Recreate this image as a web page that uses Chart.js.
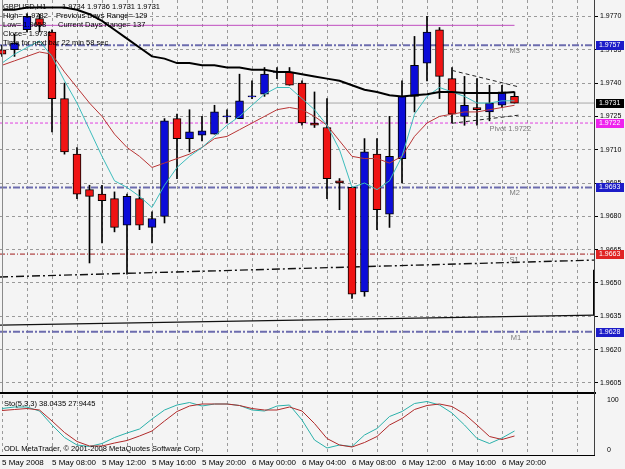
<!DOCTYPE html>
<html>
<head>
<meta charset="utf-8">
<title>GBPUSD,H1</title>
<script src="https://cdn.jsdelivr.net/npm/chart.js@4.4.1/dist/chart.umd.min.js"></script>
<style>
  html,body{margin:0;padding:0;background:#f4f4f4}
  #wrap{position:relative;width:625px;height:469px;overflow:hidden;background:#f4f4f4;font-family:"Liberation Sans",Arial,sans-serif}
  canvas{position:absolute;left:0}
  #main{top:0}
  #sto{top:394px}
  .txt{position:absolute;font-size:7.5px;line-height:8px;white-space:pre;color:#000}
  .rule{position:absolute;background:#000}
</style>
</head>
<body>
<div id="wrap">
  <canvas id="main" width="625" height="392"></canvas>
  <canvas id="sto" width="625" height="75"></canvas>
  <div class="rule" style="left:2px;top:0;width:1px;height:392px;background:#8a8a8a"></div>
  <div class="rule" style="left:0;top:392px;width:596px;height:2px"></div>
  <div class="rule" style="left:594px;top:0;width:1px;height:456px;background:#404040"></div>
  <div class="rule" style="left:0;top:455px;width:595px;height:1px"></div>
  <div class="txt" style="left:3px;top:3px">GBPUSD,H1</div>
  <div class="txt" style="left:62px;top:3px">1.9734 1.9736 1.9731 1.9731</div>
  <div class="txt" style="left:3px;top:12px">High= 1.9782</div>
  <div class="txt" style="left:56px;top:12px">Previous Days Range= 129</div>
  <div class="txt" style="left:3px;top:21px">Low= 1.9653</div>
  <div class="txt" style="left:58px;top:21px">Current Days Range= 137</div>
  <div class="txt" style="left:3px;top:30px">Close= 1.9731</div>
  <div class="txt" style="left:3px;top:39px">Time for next bar 22 min 58 sec</div>
  <div class="txt" style="left:4px;top:400px">Sto(5,3,3) 38.0435 27.9445</div>
  <div class="txt" style="left:4px;top:445px">ODL MetaTrader, © 2001-2008 MetaQuotes Software Corp.</div>
</div>
<script>
// hourly bars, index 0 = 5 May 04:00
const bars = [0,1,2,3,4,5,6,7,8,9,10,11,12,13,14,15,16,17,18,19,20,21,22,23,24,25,26,27,28,29,30,31,32,33,34,35,36,37,38,39,40,41];
const opens  = [1.9755,1.9755,1.9764,1.9769,1.9763,1.9733,1.9708,1.9692,1.9690,1.9688,1.9676,1.9688,1.9675,1.9680,1.9724,1.9715,1.97165,1.9717,1.97248,1.9724,1.97338,1.9735,1.97448,1.9745,1.9740,1.9722,1.9720,1.9696,1.9693,1.9646,1.9708,1.9681,1.9706,1.9734,1.9749,1.9764,1.9742,1.9725,1.9729,1.9727,1.9730,1.9734];
const highs  = [1.9757,1.9762,1.9771,1.9771,1.9764,1.9740,1.9711,1.9694,1.9694,1.9691,1.9690,1.9692,1.9682,1.9724,1.9726,1.9728,1.9725,1.9730,1.9728,1.9744,1.9741,1.9747,1.9747,1.9747,1.9741,1.9736,1.9733,1.9697,1.9693,1.9715,1.9715,1.9725,1.9741,1.9761,1.9770,1.9765,1.9747,1.9743,1.9742,1.9739,1.9739,1.9736];
const lows   = [1.9752,1.9752,1.9763,1.9763,1.9718,1.9708,1.9688,1.9659,1.9668,1.9673,1.9654,1.9674,1.9668,1.9677,1.9697,1.9709,1.9714,1.9717,1.9722,1.9724,1.9733,1.9734,1.9742,1.9739,1.9721,1.9720,1.9688,1.9683,1.9643,1.9644,1.9674,1.9675,1.9695,1.9727,1.9741,1.9733,1.9722,1.9721,1.9721,1.9723,1.9729,1.9731];
const closes = [1.9753,1.9758,1.9770,1.9766,1.9733,1.9709,1.9690,1.9689,1.9687,1.9675,1.9689,1.9676,1.9679,1.9723,1.9715,1.9718,1.97185,1.9727,1.97252,1.9732,1.97342,1.9744,1.97452,1.9739,1.9722,1.9721,1.9697,1.9695,1.9645,1.9709,1.9683,1.9707,1.9734,1.9748,1.9763,1.9743,1.9726,1.9730,1.9728,1.9731,1.9736,1.9731];

const maSlowBlack = [1.9773,1.9773,1.9774,1.9774,1.9774,1.9774,1.9773,1.9771,1.9768,1.9764,1.9760,1.9756,1.9752,1.9751,1.9749,1.9749,1.9748,1.9748,1.9747,1.9747,1.9746,1.9746,1.9745,1.9745,1.9744,1.9743,1.9742,1.9741,1.9739,1.9737,1.9736,1.97345,1.9734,1.97345,1.9735,1.9736,1.9736,1.97355,1.97355,1.97355,1.97355,1.9736];
const maFast = [1.9749,1.9753,1.9756,1.9759,1.9752,1.9741,1.9731,1.9719,1.9707,1.9696,1.9693,1.9689,1.9684,1.9694,1.9702,1.9707,1.9711,1.9716,1.9721,1.9725,1.9730,1.9735,1.9738,1.9738,1.9733,1.9728,1.9721,1.9710,1.9693,1.9695,1.9692,1.9696,1.9707,1.9726,1.9734,1.9738,1.9736,1.9734,1.9731,1.9731,1.9732,1.9732];
const maMid = [1.9748,1.9750,1.9752,1.9754,1.9753,1.9745,1.9738,1.9731,1.9725,1.9717,1.9711,1.9707,1.9702,1.9704,1.9706,1.9708,1.9711,1.9715,1.9716,1.9719,1.9722,1.9725,1.9728,1.9729,1.9728,1.9725,1.9721,1.9714,1.9707,1.9706,1.9706,1.9704,1.9707,1.9716,1.9722,1.9725,1.9726,1.9727,1.9727,1.9728,1.9729,1.9730];

const stoMain   = [83,86,86,78,50,25,10,7,13,25,34,42,62,80,90,95,88,92,92,89,80,78,88,90,60,20,4,10,7,30,43,67,77,93,97,90,74,50,23,13,24,38];
const stoSignal = [79,81,83,80,58,35,17,8,8,14,19,28,38,58,77,88,92,92,92,89,83,80,80,86,78,53,23,10,6,15,27,50,63,81,89,92,87,72,50,27,21,28];

const priceTicks = [1.9770,1.9755,1.9740,1.9725,1.9710,1.9695,1.9680,1.9665,1.9650,1.9635,1.9620,1.9605];
const stoTicks = [0,100];
const gridBars = [0,2,4,6,8,10,12,14,16,18,20,22,24,26,28,30,32,34,36,38,40,42,44,46];
const dateTickBars = [0,4,8,12,16,20,24,28,32,36,40];
const dateLabels = ['5 May 2008','5 May 08:00','5 May 12:00','5 May 16:00','5 May 20:00','6 May 00:00','6 May 04:00','6 May 08:00','6 May 12:00','6 May 16:00','6 May 20:00'];

const levelNames  = ['M3','Pivot 1.9722','M2','S1','M1'];
const levelValues = [1.9757,1.9722,1.9693,1.9663,1.9628];
const prevHighLine = 1.9766;
const bidLine = 1.9731;
const trendDashDot = [1.96527,1.96603];
const trendSolid = [1.96310,1.96355];
const edgeSegment = [1.96559,1.96355];
const envTop = [1.97457,1.97382];
const envBottom = [1.97219,1.97256];
const envBars = [36,41.4];

const markValues = [1.9757,1.9731,1.9722,1.9693,1.9663,1.9628];
const markColors = ['#1c1cc8','#000000','#ee22ee','#1c1cc8','#e02424','#1c1cc8'];

const FONT = '"Liberation Sans", Arial, sans-serif';
const xMin = -0.16, xMax = 47.44;
const yMin = 1.96009, yMax = 1.97774;

function hline(v, color, width, dash, x0, x1){
  return {type:'line', data:[{x:x0 ?? xMin, y:v},{x:x1 ?? xMax, y:v}], borderColor:color, borderWidth:width,
          borderDash:dash, pointRadius:0, order:6};
}
function series(vals, color, width, order){
  return {type:'line', data:bars.map((b,i)=>({x:b, y:vals[i]})), borderColor:color, borderWidth:width,
          pointRadius:0, tension:0, order:order};
}

const levelPlugin = {
  id:'levels',
  afterDatasetsDraw(chart){
    const {ctx, scales:{x, y}} = chart;
    const at = [40.6, 39.0, 40.6, 40.6, 40.7];
    ctx.save();
    ctx.font = '7.5px ' + FONT;
    ctx.fillStyle = '#7a7a7a';
    ctx.textBaseline = 'top';
    levelNames.forEach((n,k)=>ctx.fillText(n, x.getPixelForValue(at[k]), y.getPixelForValue(levelValues[k]) + 2));
    ctx.restore();
  },
  afterDraw(chart){
    const {ctx, scales:{y}} = chart;
    ctx.save();
    ctx.font = '7px ' + FONT;
    ctx.textBaseline = 'middle';
    markValues.forEach((v,k)=>{
      const py = Math.round(y.getPixelForValue(v));
      ctx.fillStyle = markColors[k];
      ctx.fillRect(596, py-4, 28, 9);
      ctx.fillStyle = '#fff';
      ctx.fillText(v.toFixed(4), 599, py+0.5);
    });
    ctx.restore();
  }
};

new Chart(document.getElementById('main'), {
  type:'bar',
  data:{datasets:[
    hline(prevHighLine, '#c04cc0', 1, [], xMin, 41),
    hline(levelValues[0], '#6c6cae', 2, [7,2,2,2]),
    hline(bidLine, '#a8a8a8', 1, []),
    hline(levelValues[1], '#e040e0', 1, [3,2]),
    hline(levelValues[2], '#6c6cae', 2, [7,2,2,2]),
    hline(levelValues[3], '#a01c1c', 1, [5,2,1,2]),
    hline(levelValues[4], '#6c6cae', 2, [7,2,2,2]),
    {type:'line', data:[{x:xMin,y:trendDashDot[0]},{x:xMax,y:trendDashDot[1]}], borderColor:'#111', borderWidth:1.4, borderDash:[8,3,2,3], pointRadius:0, order:6},
    {type:'line', data:[{x:xMin,y:trendSolid[0]},{x:xMax,y:trendSolid[1]}], borderColor:'#111', borderWidth:1.4, pointRadius:0, order:6},
    {type:'line', data:[{x:47.36,y:edgeSegment[0]},{x:47.36,y:edgeSegment[1]}], borderColor:'#000', borderWidth:2, pointRadius:0, order:6},
    {type:'bar', data:bars.map((b,i)=>({x:b, y:[lows[i], highs[i]]})), backgroundColor:'#000', barThickness:1, grouped:false, order:5},
    {type:'bar', data:bars.map((b,i)=>({x:b, y:[opens[i], closes[i]]})),
      backgroundColor:bars.map(i=>closes[i] >= opens[i] ? '#0c0cd8' : '#f01414'),
      borderColor:'#000', borderWidth:1, borderSkipped:false, barThickness:8, grouped:false, order:4},
    series(maMid, '#b83434', 1, 3),
    series(maFast, '#3cbcbc', 1, 2),
    series(maSlowBlack, '#000', 2, 1),
    {type:'line', data:[{x:envBars[0],y:envTop[0]},{x:envBars[1],y:envTop[1]}], borderColor:'#222', borderWidth:1, borderDash:[4,3], pointRadius:0, order:0},
    {type:'line', data:[{x:envBars[0],y:envBottom[0]},{x:envBars[1],y:envBottom[1]}], borderColor:'#222', borderWidth:1, borderDash:[4,3], pointRadius:0, order:0}
  ]},
  options:{
    responsive:false, animation:false, events:[],
    layout:{padding:0},
    plugins:{legend:{display:false}, tooltip:{enabled:false}},
    scales:{
      x:{type:'linear', min:xMin, max:xMax, offset:false,
         grid:{color:'#9a9a9a', offset:false, drawTicks:false}, border:{display:false, dash:[3,3]},
         ticks:{display:false},
         afterBuildTicks:s=>{ s.ticks = gridBars.map(v=>({value:v})); },
         afterFit:s=>{ s.height = 0; s.paddingLeft = 0; s.paddingRight = 0; }},
      y:{position:'right', min:yMin, max:yMax,
         grid:{color:'#9a9a9a', tickLength:3, tickColor:'#000'}, border:{display:false, dash:[3,3]},
         ticks:{font:{size:7, family:FONT}, color:'#000', padding:2, callback:v=>Number(v).toFixed(4)},
         afterBuildTicks:s=>{ s.ticks = priceTicks.map(v=>({value:v})); },
         afterFit:s=>{ s.width = 30; s.paddingTop = 0; s.paddingBottom = 0; }}
    }
  },
  plugins:[levelPlugin]
});

new Chart(document.getElementById('sto'), {
  type:'line',
  data:{datasets:[
    series(stoMain, '#2ab0aa', 1, 1),
    series(stoSignal, '#b02a2a', 1, 0)
  ]},
  options:{
    responsive:false, animation:false, events:[],
    layout:{padding:{top:1}},
    plugins:{legend:{display:false}, tooltip:{enabled:false}},
    scales:{
      x:{type:'linear', min:xMin, max:xMax, offset:false,
         grid:{color:'#9a9a9a', drawTicks:false}, border:{display:false, dash:[3,3]},
         ticks:{font:{size:8, family:FONT}, color:'#000', padding:3, align:'start', maxRotation:0, autoSkip:false,
                callback:v=>{ const k = dateTickBars.indexOf(v); return k >= 0 ? dateLabels[k] : ''; }},
         afterBuildTicks:s=>{ s.ticks = gridBars.map(v=>({value:v})); },
         afterFit:s=>{ s.height = 14; s.paddingLeft = 0; s.paddingRight = 0; }},
      y:{position:'right', min:-10, max:110,
         grid:{display:false}, border:{display:false},
         ticks:{font:{size:7, family:FONT}, color:'#000', padding:4, callback:v=>String(v)},
         afterBuildTicks:s=>{ s.ticks = stoTicks.map(v=>({value:v})); },
         afterFit:s=>{ s.width = 30; s.paddingTop = 0; s.paddingBottom = 0; }}
    }
  }
});
</script>
</body>
</html>
